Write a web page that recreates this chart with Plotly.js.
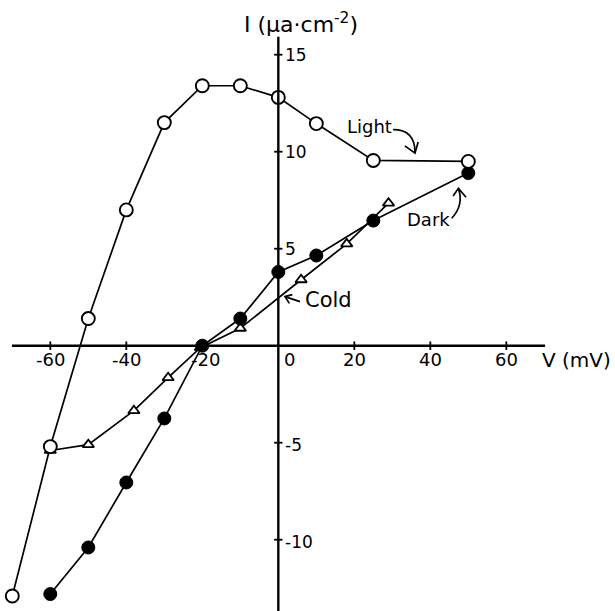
<!DOCTYPE html>
<html>
<head>
<meta charset="utf-8">
<script src="https://cdn.plot.ly/plotly-3.0.1.min.js"></script>
<style>html,body{margin:0;padding:0;background:#fff;}#chart{width:615px;height:611px;}</style>
</head>
<body>
<div id="chart"></div>
<script>
// ---- data (V in mV, I in µa·cm^-2) ----
const lightV = [-70, -60, -50, -40, -30, -20, -10, 0, 10, 25, 50];
const lightI = [-12.9, -5.2, 1.4, 7.0, 11.5, 13.4, 13.4, 12.8, 11.45, 9.55, 9.5];

const darkV = [-60, -50, -40, -30, -20, -10, 0, 10, 25, 50];
const darkI = [-12.8, -10.4, -7.05, -3.75, 0.0, 1.4, 3.8, 4.65, 6.45, 8.9];

const coldV = [-60, -50, -38, -29, -20.5, -10, 6, 18, 29];
const coldI = [-5.4, -5.1, -3.35, -1.65, -0.1, 0.9, 3.4, 5.25, 7.35];

const xTickVals = [-60, -40, -20, 0, 20, 40, 60];
const xTickText = ['-60', '-40', '-20', '0', '20', '40', '60'];
const yTickVals = [15, 10, 5, -5, -10];
const yTickText = ['15', '10', '5', '-5', '-10'];

// ---- layout helpers ----
const FONT = 'DejaVu Sans, Liberation Sans, sans-serif';
const xRange = [-73.24, 88.6];
const yRange = [-13.675, 17.82];
const line = {color: '#000', width: 1.7};

const traces = [
  {x: coldV, y: coldI, mode: 'lines+markers', type: 'scatter', cliponaxis: false,
   line: line, marker: {symbol: 'triangle-up', size: 10, color: '#fff', line: {color: '#000', width: 1.8}}},
  {x: darkV, y: darkI, mode: 'lines+markers', type: 'scatter', cliponaxis: false,
   line: line, marker: {symbol: 'circle', size: 13, color: '#000', line: {color: '#000', width: 1}}},
  {x: lightV, y: lightI, mode: 'lines+markers', type: 'scatter', cliponaxis: false,
   line: line, marker: {symbol: 'circle', size: 13, color: '#fff', line: {color: '#000', width: 1.9}}}
];

const shapes = [];
// axes through origin
shapes.push({type: 'line', xref: 'x', yref: 'y', x0: -70.1, x1: 70.2, y0: 0, y1: 0, line: {color: '#000', width: 2.4}});
shapes.push({type: 'line', xref: 'x', yref: 'y', x0: 0, x1: 0, y0: 15.93, y1: yRange[0], line: {color: '#000', width: 2.4}});
// tick crosses
xTickVals.forEach(v => { if (v !== 0) shapes.push({type: 'line', xref: 'x', yref: 'y', x0: v, x1: v, y0: -0.22, y1: 0.22, line: {color: '#000', width: 1.8}}); });
yTickVals.forEach(v => shapes.push({type: 'line', xref: 'x', yref: 'y', x0: -1.1, x1: 1.1, y0: v, y1: v, line: {color: '#000', width: 1.8}}));

// curved label arrows (data coordinates)
const arrowLine = {color: '#000', width: 1.7};
shapes.push({type: 'path', xref: 'x', yref: 'y', path: 'M 30.2,11.14 Q 36.0,11.14 35.97,9.96', line: arrowLine});
shapes.push({type: 'path', xref: 'x', yref: 'y', path: 'M 33.3,10.3 L 35.97,9.93 L 36.8,10.5', line: arrowLine});
shapes.push({type: 'path', xref: 'x', yref: 'y', path: 'M 45.63,6.57 Q 48.9,7.25 47.39,8.11', line: arrowLine});
shapes.push({type: 'path', xref: 'x', yref: 'y', path: 'M 46.0,7.72 L 47.39,8.11 L 49.4,7.65', line: arrowLine});
shapes.push({type: 'path', xref: 'x', yref: 'y', path: 'M 5.7,2.27 L 1.76,2.53', line: arrowLine});
shapes.push({type: 'path', xref: 'x', yref: 'y', path: 'M 3.7,2.63 L 1.76,2.53 L 2.9,2.18', line: arrowLine});

const annotations = [];
xTickVals.forEach((v, i) => annotations.push({
  x: v, y: 0, xref: 'x', yref: 'y', text: xTickText[i], showarrow: false,
  xanchor: 'center', yanchor: 'middle', yshift: -14, xshift: v === 0 ? 11 : (v === -20 ? 3 : 0),
  font: {family: FONT, size: 18, color: '#000'}
}));
yTickVals.forEach((v, i) => annotations.push({
  x: 0, y: v, xref: 'x', yref: 'y', text: yTickText[i], showarrow: false,
  xanchor: 'left', yanchor: 'middle', xshift: 5, yshift: v < 0 ? -2 : 0,
  font: {family: FONT, size: 17, color: '#000'}
}));
annotations.push({x: 68.9, y: 0, xref: 'x', yref: 'y', text: 'V (mV)', showarrow: false,
  xanchor: 'left', yanchor: 'middle', yshift: -14, font: {family: FONT, size: 20, color: '#000'}});
annotations.push({x: 6.0, y: 16.63, xref: 'x', yref: 'y', text: 'I (μa·cm<sup>-2</sup>)', showarrow: false,
  xanchor: 'center', yanchor: 'middle', font: {family: FONT, size: 22, color: '#000'}});
annotations.push({x: 24.1, y: 11.32, xref: 'x', yref: 'y', text: 'Light', showarrow: false,
  xanchor: 'center', yanchor: 'middle', font: {family: FONT, size: 18, color: '#000'}});
annotations.push({x: 39.6, y: 6.48, xref: 'x', yref: 'y', text: 'Dark', showarrow: false,
  xanchor: 'center', yanchor: 'middle', font: {family: FONT, size: 18, color: '#000'}});
annotations.push({x: 13.3, y: 2.36, xref: 'x', yref: 'y', text: 'Cold', showarrow: false,
  xanchor: 'center', yanchor: 'middle', font: {family: FONT, size: 21, color: '#000'}});

const layout = {
  width: 615, height: 611, autosize: false,
  margin: {l: 0, r: 0, t: 0, b: 0, pad: 0},
  paper_bgcolor: '#fff', plot_bgcolor: '#fff',
  showlegend: false,
  xaxis: {range: xRange, showgrid: false, zeroline: false, showticklabels: false, ticks: '', showline: false, fixedrange: true},
  yaxis: {range: yRange, showgrid: false, zeroline: false, showticklabels: false, ticks: '', showline: false, fixedrange: true},
  shapes: shapes,
  annotations: annotations,
  font: {family: FONT, color: '#000'}
};

Plotly.newPlot('chart', traces, layout, {displayModeBar: false, staticPlot: true});
</script>
</body>
</html>
